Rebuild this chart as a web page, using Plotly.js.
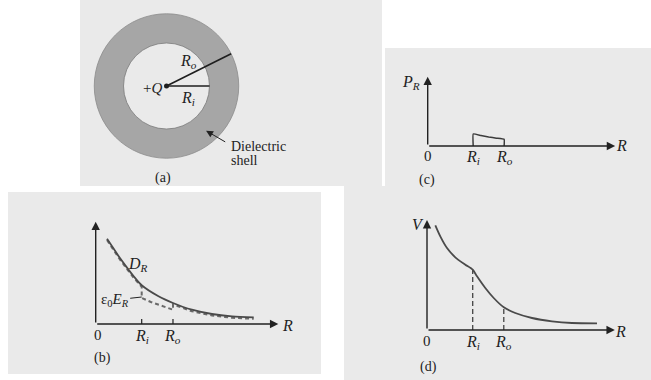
<!DOCTYPE html>
<html><head><meta charset="utf-8">
<script src="https://cdn.plot.ly/plotly-3.0.1.min.js"></script>
<style>html,body{margin:0;padding:0;background:#fff}#chart{width:651px;height:380px}</style>
</head><body><div id="chart"></div>
<script>
// ---------------- data ----------------
const Ri = 1.0;            // inner radius of the dielectric shell (normalised)
const Ro = 1.68;           // outer radius
const roAngleDeg = 26.5;   // direction of the R_o radius line in (a)

// (b) D_R (solid) and eps0*E_R (dashed) versus R
const R_D = [0.246,0.355,0.5,0.643,0.826,1.0,1.365,1.68,2.09,2.528,2.963,3.435];
const D_R = [85.3,77.7,67.7,58.7,47.7,38.7,27.7,21,14.3,10,7.7,6.7];
const R_E = [0.246,0.355,0.5,0.643,0.826,1.0,1.0,1.2,1.4,1.68,1.68,2.09,2.528,2.963,3.435];
const E_R = [84,76.2,66.2,57.2,46.2,37.2,26,22,18.5,14.3,19.5,12.8,8.5,6.2,5.2];

// (c) P_R versus R
const R_P = [1.0,1.0,1.17,1.34,1.51,1.68,1.68];
const P_R = [0,12,10.4,9.0,7.8,6.7,0];

// (d) V versus R
const R_V = [0.182,0.291,0.438,0.619,0.838,1.0,1.094,1.276,1.46,1.68,1.932,2.298,2.735,3.173,3.72];
const V   = [104.7,93.7,82,72.7,65.3,60.3,53.7,42,32,22.7,17,12,8.7,7,6.7];

// axis arrow extents [x tip, y tip] for panels b, c, d
const tipsB = [3.97, 102.3];
const tipsC = [4.12, 69.3];
const tipsD = [4.11, 110];

// ---------------- layout helpers ----------------
const W = 651, H = 380;
const FONT = "Liberation Serif";
const INK = "#222222";
const PATCH = "#eaeaea";

function axPair(rect, origin, sx, sy) {
  const [x0, x1, y0, y1] = rect;
  const base = {visible:false, showgrid:false, zeroline:false, fixedrange:true};
  return [
    Object.assign({}, base, {domain:[x0/W, x1/W], range:[(x0-origin[0])/sx, (x1-origin[0])/sx]}),
    Object.assign({}, base, {domain:[1-y1/H, 1-y0/H], range:[(origin[1]-y1)/sy, (origin[1]-y0)/sy]})
  ];
}
const [xa, ya] = axPair([80,382,0,186], [166.5,86], 43, 43);
const [xb, yb] = axPair([8,321,192,374], [95.7,324], 46, 1);
const [xc, yc] = axPair([385,651,48,186], [427.7,146], 45.5, 1);
const [xd, yd] = axPair([344,651,186,380], [427,330], 45.7, 1);
xa.anchor='y'; ya.anchor='x';
xb.anchor='y2'; yb.anchor='x2';
xc.anchor='y3'; yc.anchor='x3';
xd.anchor='y4'; yd.anchor='x4';

function patch(x0,x1,y0,y1){
  return {type:'rect', xref:'paper', yref:'paper', x0:x0/W, x1:x1/W, y0:1-y1/H, y1:1-y0/H,
          fillcolor:PATCH, line:{width:0}, layer:'below'};
}
function lab(text, xr, yr, x, y, size, extra) {
  return Object.assign({text, xref:xr, yref:yr, x, y, showarrow:false,
    xanchor:'center', yanchor:'middle', font:{family:FONT, size:size||15, color:INK}}, extra||{});
}
function arrow(xr, yr, x, y, ax, ay, extra) {
  return Object.assign({text:'', xref:xr, yref:yr, x, y, ax, ay, axref:xr, ayref:yr,
    showarrow:true, arrowhead:2, arrowsize:1.2, arrowwidth:1.4, arrowcolor:INK, standoff:0}, extra||{});
}
const Ri_txt = "<i>R</i><sub><i>i</i></sub>";
const Ro_txt = "<i>R</i><sub><i>o</i></sub>";

// ---------------- traces ----------------
const th = roAngleDeg*Math.PI/180;
const vAtRi = V[R_V.indexOf(Ri)], vAtRo = V[R_V.indexOf(Ro)];
const traces = [
  // (a)
  {x:[0, Ro*Math.cos(th)], y:[0, Ro*Math.sin(th)], xaxis:'x', yaxis:'y', mode:'lines',
   line:{color:'#1e1e1e', width:1.6}, hoverinfo:'skip'},
  {x:[0, Ri], y:[0, 0], xaxis:'x', yaxis:'y', mode:'lines', line:{color:'#1e1e1e', width:1.4}, hoverinfo:'skip'},
  {x:[0], y:[0], xaxis:'x', yaxis:'y', mode:'markers', marker:{color:'#1e1e1e', size:5}, hoverinfo:'skip'},
  // (b)
  {x:R_E, y:E_R, xaxis:'x2', yaxis:'y2', mode:'lines', line:{color:'#6a6a6a', width:2, dash:'4px,3px'}, hoverinfo:'skip'},
  {x:R_D, y:D_R, xaxis:'x2', yaxis:'y2', mode:'lines', line:{color:'#4a4a4a', width:1.8, shape:'spline', smoothing:0.8}, hoverinfo:'skip'},
  {x:[Ri,Ri,null,Ro,Ro], y:[0,5,null,0,5], xaxis:'x2', yaxis:'y2', mode:'lines', line:{color:INK, width:1.2}, hoverinfo:'skip'},
  // (c)
  {x:R_P, y:P_R, xaxis:'x3', yaxis:'y3', mode:'lines', line:{color:'#3c3c3c', width:1.5, shape:'spline', smoothing:0.3}, hoverinfo:'skip'},
  // (d)
  {x:[Ri,Ri,null,Ro,Ro], y:[0,vAtRi,null,0,vAtRo], xaxis:'x4', yaxis:'y4', mode:'lines',
   line:{color:'#444', width:1.3, dash:'5px,3px'}, hoverinfo:'skip'},
  {x:R_V, y:V, xaxis:'x4', yaxis:'y4', mode:'lines', line:{color:'#4a4a4a', width:1.8, shape:'spline', smoothing:0.7}, hoverinfo:'skip'}
];

// ---------------- annotations ----------------
const ann = [
  // (a)
  lab("+<i>Q</i>", 'x','y', -0.33, -0.05, 15),
  lab(Ro_txt, 'x','y', 0.52, 0.57, 16),
  lab(Ri_txt, 'x','y', 0.5, -0.28, 16),
  lab("Dielectric", 'x','y', 1.46, -1.412, 14, {xanchor:'left'}),
  lab("shell", 'x','y', 1.46, -1.73, 14, {xanchor:'left'}),
  arrow('x','y', 0.92, -1.04, 1.40, -1.32, {arrowwidth:1, arrowsize:1.4}),
  lab("(a)", 'x','y', -0.08, -2.14, 14),
  // (b)
  arrow('x2','y2', tipsB[0], 0, 0, 0),
  arrow('x2','y2', 0, tipsB[1], 0, 0),
  lab("<i>D</i><sub><i>R</i></sub>", 'x2','y2', 0.92, 60, 16),
  {text:"ε<sub>0</sub><i>E</i><sub><i>R</i></sub>", xref:'x2', yref:'y2', x:Ri, y:27, ax:-27, ay:3,
   showarrow:true, arrowhead:0, arrowwidth:1, arrowcolor:INK, standoff:0,
   font:{family:FONT, size:15, color:INK}},
  lab("0", 'x2','y2', 0.04, -11, 15),
  lab(Ri_txt, 'x2','y2', Ri, -12.5, 16),
  lab(Ro_txt, 'x2','y2', Ro, -12.5, 16),
  lab("<i>R</i>", 'x2','y2', 4.16, -1, 16),
  lab("(b)", 'x2','y2', 0.14, -34, 14),
  // (c)
  arrow('x3','y3', tipsC[0], 0, 0, 0),
  arrow('x3','y3', 0, tipsC[1], 0, 0),
  lab("<i>P</i><sub><i>R</i></sub>", 'x3','y3', -0.37, 63, 16),
  lab("0", 'x3','y3', 0, -10.5, 15),
  lab(Ri_txt, 'x3','y3', Ri, -11.5, 16),
  lab(Ro_txt, 'x3','y3', Ro, -11.5, 16),
  lab("<i>R</i>", 'x3','y3', 4.26, 0, 16),
  lab("(c)", 'x3','y3', -0.02, -34, 14),
  // (d)
  arrow('x4','y4', tipsD[0], 0, 0, 0),
  arrow('x4','y4', 0, tipsD[1], 0, 0),
  lab("<i>V</i>", 'x4','y4', -0.2, 106, 16),
  lab("0", 'x4','y4', 0, -10.7, 15),
  lab(Ri_txt, 'x4','y4', Ri, -12, 16),
  lab(Ro_txt, 'x4','y4', Ro, -12, 16),
  lab("<i>R</i>", 'x4','y4', 4.24, -1.7, 16),
  lab("(d)", 'x4','y4', 0.04, -37, 14)
];

const layout = {
  width: W, height: H, margin:{l:0, r:0, t:0, b:0, pad:0},
  paper_bgcolor:'#ffffff', plot_bgcolor:'rgba(0,0,0,0)', showlegend:false,
  xaxis:xa, yaxis:ya, xaxis2:xb, yaxis2:yb, xaxis3:xc, yaxis3:yc, xaxis4:xd, yaxis4:yd,
  shapes:[
    patch(80,382,0,186), patch(8,321,192,374), patch(385,651,48,186), patch(344,651,186,380),
    {type:'circle', xref:'x', yref:'y', x0:-Ro, x1:Ro, y0:-Ro, y1:Ro,
     fillcolor:'#a6a6a6', line:{color:'#8c8c8c', width:0.8}, layer:'below'},
    {type:'circle', xref:'x', yref:'y', x0:-Ri, x1:Ri, y0:-Ri, y1:Ri,
     fillcolor:PATCH, line:{color:'#7a7a7a', width:0.8}, layer:'below'}
  ],
  annotations: ann
};
Plotly.newPlot('chart', traces, layout, {displayModeBar:false, staticPlot:true});
</script></body></html>
